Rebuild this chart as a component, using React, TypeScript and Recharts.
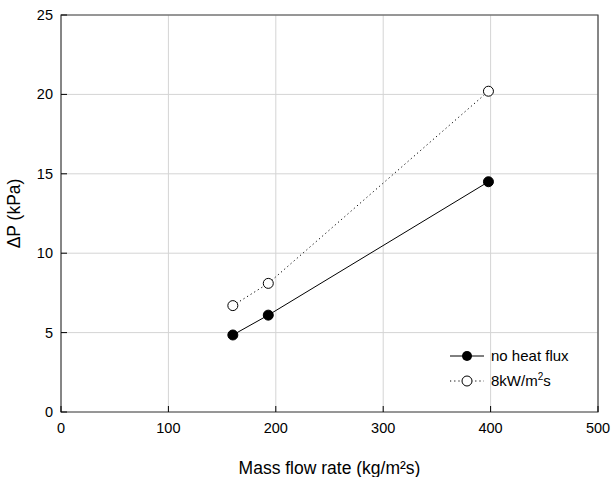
import {
  CartesianGrid,
  Label,
  Line,
  LineChart,
  ReferenceArea,
  XAxis,
  YAxis,
} from 'recharts';

const massFlow = [160, 193, 398];
const noHeatFlux = [4.85, 6.1, 14.5];
const heatFlux8 = [6.7, 8.1, 20.2];
const xTicks = [0, 100, 200, 300, 400, 500];
const yTicks = [0, 5, 10, 15, 20, 25];

const data = massFlow.map((g, i) => ({
  g,
  noHeat: noHeatFlux[i],
  heat8: heatFlux8[i],
}));

const FONT = '"Liberation Sans", Arial, sans-serif';

const YTick = ({ x, y, payload }: any) => (
  <g>
    <text x={x} y={y} dy="0.35em" textAnchor="end" fontSize={14.5} fill="#000" fontFamily={FONT}>
      {payload.value}
    </text>
    <line x1={x + 8} x2={x + 14} y1={y} y2={y} stroke="#000" />
  </g>
);

const XTick = ({ x, y, payload }: any) => (
  <g>
    <text x={x} y={y} dy="0.71em" textAnchor="middle" fontSize={14.5} fill="#000" fontFamily={FONT}>
      {payload.value}
    </text>
    <line x1={x} x2={x} y1={y - 11} y2={y - 17} stroke="#000" />
  </g>
);

// legend drawn as an overlay, so it does not take room from the plot
const LegendBox = () => (
  <svg
    width={140}
    height={50}
    style={{ position: 'absolute', left: 448, top: 344, fontFamily: FONT }}
  >
    <line x1={2} x2={36} y1={12} y2={12} stroke="#000" />
    <circle cx={19} cy={12} r={5} fill="#000" />
    <text x={43} y={12} dy="0.35em" fontSize={15}>no heat flux</text>
    <line x1={2} x2={36} y1={37} y2={37} stroke="#000" strokeDasharray="1.2 3" />
    <circle cx={19} cy={37} r={5} fill="#fff" stroke="#000" />
    <text x={43} y={37} dy="0.35em" fontSize={15}>
      8kW/m<tspan dy="-6" fontSize={10}>2</tspan>
      <tspan dy="6">s</tspan>
    </text>
  </svg>
);

export default function App() {
  return (
    <div style={{ position: 'absolute', left: 0, top: 0, width: 612, height: 477, background: '#fff' }}>
      <LineChart
        width={612}
        height={477}
        data={data}
        margin={{ top: 15, right: 14, bottom: 0, left: 0 }}
        style={{ fontFamily: FONT }}
      >
        <CartesianGrid stroke="#d4d4d4" strokeWidth={1} />
        <XAxis
          dataKey="g"
          type="number"
          domain={[0, 500]}
          ticks={xTicks}
          height={65}
          axisLine={false}
          tickLine={false}
          tickSize={0}
          tickMargin={11}
          tick={<XTick />}
          interval={0}
        >
          <Label
            value="Mass flow rate (kg/m²s)"
            position="insideBottom"
            offset={3}
            fontSize={17.5}
            fill="#000"
            fontFamily={FONT}
          />
        </XAxis>
        <YAxis
          type="number"
          domain={[0, 25]}
          ticks={yTicks}
          width={61}
          axisLine={false}
          tickLine={false}
          tickSize={0}
          tickMargin={8}
          tick={<YTick />}
          interval={0}
        >
          <Label
            value="ΔP (kPa)"
            angle={-90}
            position="insideLeft"
            offset={14}
            fontSize={17.5}
            fill="#000"
            fontFamily={FONT}
            style={{ textAnchor: 'middle' }}
          />
        </YAxis>
        <ReferenceArea x1={0} x2={500} y1={0} y2={25} fill="none" stroke="#444" strokeWidth={1.2} />
        <Line
          dataKey="noHeat"
          stroke="#000"
          strokeWidth={1}
          dot={{ r: 5, fill: '#000', stroke: '#000', strokeWidth: 1 }}
          isAnimationActive={false}
        />
        <Line
          dataKey="heat8"
          stroke="#000"
          strokeWidth={1}
          strokeDasharray="1.2 3"
          dot={{ r: 5, fill: '#fff', stroke: '#000', strokeWidth: 1, strokeDasharray: '' }}
          isAnimationActive={false}
        />
      </LineChart>
      <LegendBox />
    </div>
  );
}
